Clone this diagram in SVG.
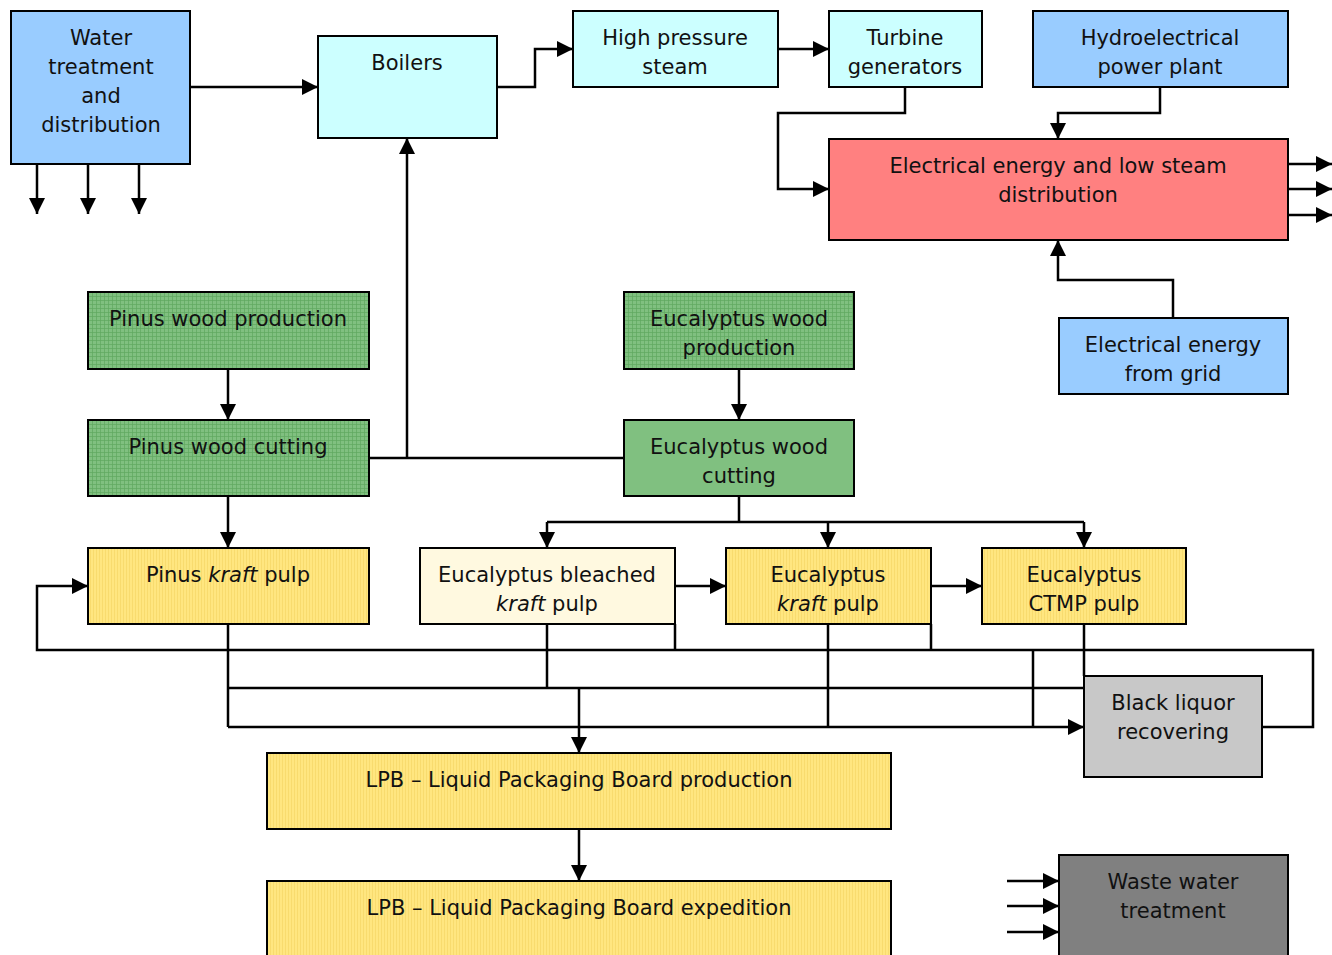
<svg xmlns="http://www.w3.org/2000/svg" width="1332" height="955" viewBox="0 0 1332 955">
<style>
.b{stroke:#000;stroke-width:2}
.t{font-family:"DejaVu Sans",Verdana,sans-serif;font-size:21px;fill:#111;text-anchor:middle}
.c{fill:none;stroke:#000;stroke-width:2.5}
.blue{fill:#99CCFF}.cyan{fill:#CCFFFF}.red{fill:#FF8080}.green{fill:url(#gh)}.green2{fill:#80C080}.yel{fill:url(#yh)}.cream{fill:#FFF9E0}.lg{fill:#C8C8C8}.dg{fill:#808080}
</style>
<defs>
<pattern id="gh" width="4" height="4" patternUnits="userSpaceOnUse"><rect width="4" height="4" fill="#80C080"/><path d="M0 0.5H4M0.5 0V4" stroke="#5FA85F" stroke-width="0.7"/></pattern>
<pattern id="yh" width="3" height="3" patternUnits="userSpaceOnUse"><rect width="3" height="3" fill="#FFE680"/><path d="M0.5 0V3" stroke="#F5D766" stroke-width="0.7"/></pattern>
<marker id="a" viewBox="0 0 10 10" refX="10" refY="5" markerWidth="6.4" markerHeight="6.4" markerUnits="strokeWidth" orient="auto"><path d="M0 0L10 5L0 10z" fill="#000"/></marker>
</defs>
<g id="connectors">
<path class="c" marker-end="url(#a)" d="M190 87H318"/>
<path class="c" marker-end="url(#a)" d="M37 164V214"/>
<path class="c" marker-end="url(#a)" d="M88 164V214"/>
<path class="c" marker-end="url(#a)" d="M139 164V214"/>
<path class="c" marker-end="url(#a)" d="M497 87H535V49H573"/>
<path class="c" marker-end="url(#a)" d="M778 49H829"/>
<path class="c" marker-end="url(#a)" d="M905 87V113H778V189H829"/>
<path class="c" marker-end="url(#a)" d="M1160 87V113H1058V139"/>
<path class="c" marker-end="url(#a)" d="M1288 164H1332"/>
<path class="c" marker-end="url(#a)" d="M1288 189H1332"/>
<path class="c" marker-end="url(#a)" d="M1288 215H1332"/>
<path class="c" marker-end="url(#a)" d="M1173 318V280H1058V240"/>
<path class="c" marker-end="url(#a)" d="M228 369V420"/>
<path class="c" marker-end="url(#a)" d="M739 369V420"/>
<path class="c" d="M369 458H624"/>
<path class="c" marker-end="url(#a)" d="M407 458V138"/>
<path class="c" marker-end="url(#a)" d="M228 496V548"/>
<path class="c" d="M739 496V522M547 522H1084"/>
<path class="c" marker-end="url(#a)" d="M547 522V548"/>
<path class="c" marker-end="url(#a)" d="M828 522V548"/>
<path class="c" marker-end="url(#a)" d="M1084 522V548"/>
<path class="c" marker-end="url(#a)" d="M675 586H726"/>
<path class="c" marker-end="url(#a)" d="M931 586H982"/>
<path class="c" marker-end="url(#a)" d="M1262 727H1313V650H37V586H88"/>
<path class="c" d="M675 624V650M931 624V650M1033 650V727"/>
<path class="c" d="M228 624V727M547 624V688M828 624V727M1084 624V676M228 688H1084"/>
<path class="c" marker-end="url(#a)" d="M228 727H1084"/>
<path class="c" marker-end="url(#a)" d="M579 688V753"/>
<path class="c" marker-end="url(#a)" d="M579 829V881"/>
<path class="c" marker-end="url(#a)" d="M1007 881H1059"/>
<path class="c" marker-end="url(#a)" d="M1007 906H1059"/>
<path class="c" marker-end="url(#a)" d="M1007 932H1059"/>
</g>
<g id="water"><rect class="b blue" x="11" y="11" width="179" height="153"/><text class="t" x="101" y="45">Water</text><text class="t" x="101" y="74">treatment</text><text class="t" x="101" y="103">and</text><text class="t" x="101" y="132">distribution</text></g>
<g id="boilers"><rect class="b cyan" x="318" y="36" width="179" height="102"/><text class="t" x="407" y="70">Boilers</text></g>
<g id="hpsteam"><rect class="b cyan" x="573" y="11" width="205" height="76"/><text class="t" x="675" y="45">High pressure</text><text class="t" x="675" y="74">steam</text></g>
<g id="turbine"><rect class="b cyan" x="829" y="11" width="153" height="76"/><text class="t" x="905" y="45">Turbine</text><text class="t" x="905" y="74">generators</text></g>
<g id="hydro"><rect class="b blue" x="1033" y="11" width="255" height="76"/><text class="t" x="1160" y="45">Hydroelectrical</text><text class="t" x="1160" y="74">power plant</text></g>
<g id="elec"><rect class="b red" x="829" y="139" width="459" height="101"/><text class="t" x="1058" y="173">Electrical energy and low steam</text><text class="t" x="1058" y="202">distribution</text></g>
<g id="grid"><rect class="b blue" x="1059" y="318" width="229" height="76"/><text class="t" x="1173" y="352">Electrical energy</text><text class="t" x="1173" y="381">from grid</text></g>
<g id="pinusprod"><rect class="b green" x="88" y="292" width="281" height="77"/><text class="t" x="228" y="326">Pinus wood production</text></g>
<g id="eucprod"><rect class="b green" x="624" y="292" width="230" height="77"/><text class="t" x="739" y="326">Eucalyptus wood</text><text class="t" x="739" y="355">production</text></g>
<g id="pinuscut"><rect class="b green" x="88" y="420" width="281" height="76"/><text class="t" x="228" y="454">Pinus wood cutting</text></g>
<g id="euccut"><rect class="b green2" x="624" y="420" width="230" height="76"/><text class="t" x="739" y="454">Eucalyptus wood</text><text class="t" x="739" y="483">cutting</text></g>
<g id="pinuskraft"><rect class="b yel" x="88" y="548" width="281" height="76"/><text class="t" x="228" y="582">Pinus <tspan font-style="italic">kraft</tspan> pulp</text></g>
<g id="eucbleached"><rect class="b cream" x="420" y="548" width="255" height="76"/><text class="t" x="547" y="582">Eucalyptus bleached</text><text class="t" x="547" y="611"><tspan font-style="italic">kraft</tspan> pulp</text></g>
<g id="euckraft"><rect class="b yel" x="726" y="548" width="205" height="76"/><text class="t" x="828" y="582">Eucalyptus</text><text class="t" x="828" y="611"><tspan font-style="italic">kraft</tspan> pulp</text></g>
<g id="ctmp"><rect class="b yel" x="982" y="548" width="204" height="76"/><text class="t" x="1084" y="582">Eucalyptus</text><text class="t" x="1084" y="611">CTMP pulp</text></g>
<g id="blackliquor"><rect class="b lg" x="1084" y="676" width="178" height="101"/><text class="t" x="1173" y="710">Black liquor</text><text class="t" x="1173" y="739">recovering</text></g>
<g id="lpbprod"><rect class="b yel" x="267" y="753" width="624" height="76"/><text class="t" x="579" y="787">LPB – Liquid Packaging Board production</text></g>
<g id="lpbexp"><rect class="b yel" x="267" y="881" width="624" height="80"/><text class="t" x="579" y="915">LPB – Liquid Packaging Board expedition</text></g>
<g id="waste"><rect class="b dg" x="1059" y="855" width="229" height="106"/><text class="t" x="1173" y="889">Waste water</text><text class="t" x="1173" y="918">treatment</text></g>
</svg>
